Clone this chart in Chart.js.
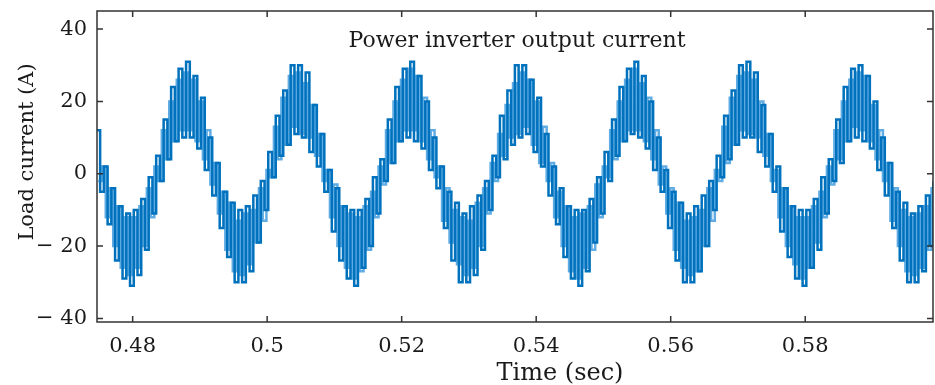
<!DOCTYPE html>
<html>
<head>
<meta charset="utf-8">
<script src="https://cdn.jsdelivr.net/npm/chart.js@4.4.1/dist/chart.umd.min.js"></script>
<style>
  html, body { margin: 0; padding: 0; background: #fff; }
</style>
</head>
<body>
<canvas id="chart" width="935" height="385"></canvas>
<script>
// Sampled load current (A), one value per sample step
const sampleStart = 0.47461;
const sampleStep = 0.00055556;
const loadCurrent = [
    12, -5, 2, -14, -4, -24, -9, -29, -11, -31, -10, -28, -7, -21, -1, -11, 5, -2, 15, 4, 24, 9, 29, 10, 31, 10, 27, 7, 21, 1,
    10, -6, 3, -15, -5, -23, -8, -30, -10, -30, -9, -27, -6, -19, -2, -10, 6, -1, 16, 5, 23, 8, 30, 11, 30, 10, 28, 6, 19, 2,
    11, -5, 1, -16, -4, -24, -9, -29, -10, -31, -10, -26, -7, -20, -1, -11, 4, -2, 15, 3, 24, 9, 29, 10, 31, 9, 27, 7, 20, 1,
    10, -4, 2, -15, -5, -24, -8, -30, -11, -30, -9, -28, -6, -21, -2, -10, 5, -1, 16, 4, 23, 8, 30, 10, 30, 11, 26, 6, 21, 2,
    11, -6, 2, -14, -4, -23, -9, -29, -10, -31, -10, -27, -7, -19, -1, -11, 6, -2, 15, 5, 24, 9, 29, 11, 31, 10, 27, 7, 20, 1,
    10, -5, 1, -15, -5, -24, -8, -30, -11, -30, -9, -27, -6, -20, -2, -10, 5, -1, 16, 4, 23, 8, 30, 10, 31, 10, 28, 6, 19, 2,
    11, -5, 2, -16, -4, -23, -9, -29, -10, -31, -10, -26, -7, -21, -1, -11, 4, -2, 15, 3, 24, 9, 29, 10, 30, 9, 27, 7, 20, 1,
    10, -6, 3, -15, -5, -24, -8, -30, -11, -30, -9, -27, -6, -20, -2
];

// fainter in-between switching edges, half a step later
const midStart = 0.47489;
const loadCurrentMid = [
    -2, 2, -12, -4, -20, -9, -26, -12, -28, -12, -26, -9, -20, -4, -12, 2, -2, 12, 4, 20, 9, 26, 12, 28, 12, 26, 9, 20, 4, 12,
    -3, 3, -11, -5, -21, -8, -27, -13, -28, -11, -25, -10, -19, -4, -13, 1, -1, 13, 4, 21, 8, 27, 13, 28, 11, 25, 10, 19, 5, 11,
    -2, 1, -12, -3, -20, -9, -26, -11, -29, -12, -27, -9, -21, -5, -12, 2, -3, 12, 3, 20, 9, 26, 12, 29, 12, 27, 9, 21, 4, 12,
    -1, 2, -13, -4, -19, -10, -25, -12, -28, -13, -26, -8, -20, -4, -11, 3, -2, 11, 5, 19, 10, 25, 11, 28, 13, 26, 8, 20, 3, 13,
    -2, 3, -12, -5, -20, -9, -27, -12, -29, -11, -26, -9, -21, -3, -12, 2, -1, 12, 4, 20, 9, 26, 12, 29, 12, 25, 9, 21, 4, 12,
    -3, 2, -11, -4, -21, -8, -26, -13, -28, -12, -27, -10, -20, -4, -13, 1, -2, 13, 3, 21, 8, 27, 12, 28, 11, 26, 10, 20, 5, 11,
    -2, 1, -12, -4, -20, -9, -25, -12, -29, -12, -26, -9, -19, -5, -12, 2, -3, 12, 4, 20, 9, 26, 13, 28, 12, 27, 9, 19, 4, 12,
    -2, 3, -13, -4, -20, -10, -27, -12, -28, -11, -26, -9, -21, -4, -12
];

const xTicks = [0.48, 0.5, 0.52, 0.54, 0.56, 0.58];
const yTicks = [-40, -20, 0, 20, 40];

const plotTitle = 'Power inverter output current';
const xTitle = 'Time (sec)';
const yTitle = 'Load current (A)';

const serif = '"DejaVu Serif", "Liberation Serif", serif';

const points = loadCurrent.map((v, i) => ({ x: sampleStart + i * sampleStep, y: v }));
const midPoints = loadCurrentMid.map((v, i) => ({ x: midStart + i * sampleStep, y: v }));

// box, inward ticks and the text labels (MATLAB-like frame)
const framePlugin = {
    id: 'frame',
    afterDraw(chart) {
        const { ctx, chartArea: a, scales } = chart;
        ctx.save();
        ctx.strokeStyle = '#333';
        ctx.lineWidth = 1.5;
        ctx.strokeRect(a.left, a.top, a.right - a.left, a.bottom - a.top);

        ctx.beginPath();
        xTicks.forEach(v => {
            const px = scales.x.getPixelForValue(v);
            ctx.moveTo(px, a.bottom); ctx.lineTo(px, a.bottom - 6);
            ctx.moveTo(px, a.top); ctx.lineTo(px, a.top + 6);
        });
        yTicks.forEach(v => {
            const py = scales.y.getPixelForValue(v);
            ctx.moveTo(a.left, py); ctx.lineTo(a.left + 6, py);
            ctx.moveTo(a.right, py); ctx.lineTo(a.right - 6, py);
        });
        ctx.stroke();

        ctx.fillStyle = '#1a1a1a';
        ctx.textAlign = 'center';
        ctx.textBaseline = 'alphabetic';
        ctx.font = '22px ' + serif;
        ctx.fillText(plotTitle, 517, 47);

        ctx.font = '24px ' + serif;
        ctx.fillText(xTitle, 560, 380);

        ctx.translate(28, 152);
        ctx.rotate(-Math.PI / 2);
        ctx.textBaseline = 'middle';
        ctx.font = '21px ' + serif;
        ctx.fillText(yTitle, 0, 0);
        ctx.restore();
    }
};

new Chart(document.getElementById('chart'), {
    type: 'line',
    data: {
        datasets: [{
            // dark stepped trace
            label: 'Load current',
            data: points,
            borderColor: '#0072bd',
            borderWidth: 2.5,
            stepped: true,
            pointRadius: 0,
            fill: false,
            order: 0
        }, {
            // lighter in-between edges
            label: 'Load current (mid)',
            data: midPoints,
            borderColor: 'rgba(88, 168, 226, 0.95)',
            borderWidth: 2.5,
            stepped: true,
            pointRadius: 0,
            fill: false,
            order: 1
        }]
    },
    options: {
        responsive: false,
        animation: false,
        devicePixelRatio: 1,
        layout: { padding: { top: 11, right: 2, left: 0, bottom: 0 } },
        plugins: {
            legend: { display: false },
            tooltip: { enabled: false }
        },
        scales: {
            x: {
                type: 'linear',
                min: 0.4747,
                max: 0.599,
                afterBuildTicks: axis => { axis.ticks = xTicks.map(v => ({ value: v })); },
                afterFit: axis => { axis.height = 63; axis.paddingLeft = 0; axis.paddingRight = 0; },
                grid: { display: false, drawTicks: false },
                border: { display: false },
                ticks: {
                    color: '#1a1a1a',
                    font: { family: serif, size: 21 },
                    padding: 12,
                    maxRotation: 0,
                    callback: v => String(v)
                }
            },
            y: {
                type: 'linear',
                min: -41,
                max: 45,
                afterBuildTicks: axis => { axis.ticks = yTicks.map(v => ({ value: v })); },
                afterFit: axis => { axis.width = 97; axis.paddingTop = 0; axis.paddingBottom = 0; },
                grid: { display: false, drawTicks: false },
                border: { display: false },
                ticks: {
                    color: '#1a1a1a',
                    font: { family: serif, size: 21 },
                    padding: 10,
                    callback: v => v < 0 ? '\u2212 ' + Math.abs(v) : String(v)
                }
            }
        }
    },
    plugins: [framePlugin]
});
</script>
</body>
</html>
